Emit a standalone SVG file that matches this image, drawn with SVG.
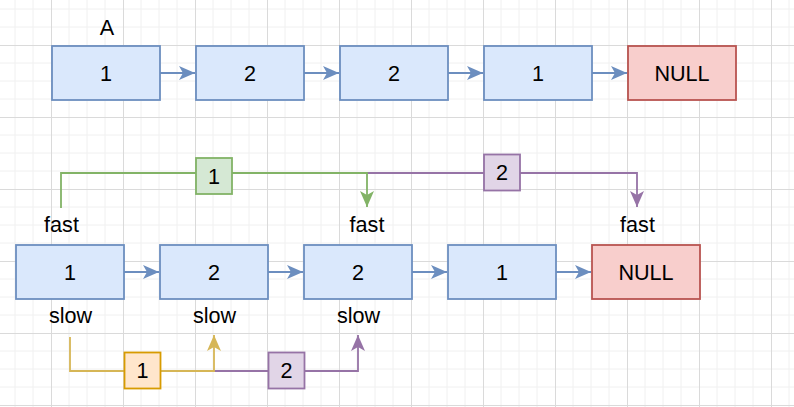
<svg xmlns="http://www.w3.org/2000/svg" width="794" height="407" viewBox="0 0 794 407">
<style>
text{font-family:"Liberation Sans",Arial,sans-serif;font-size:21.6px;fill:#000;text-anchor:middle}
.blue{fill:#dae8fc;stroke:#6c8ebf;stroke-width:1.8}
.red{fill:#f8cecc;stroke:#b85450;stroke-width:1.8}
.green{fill:#d5e8d4;stroke:#82b366;stroke-width:1.8}
.orange{fill:#ffe6cc;stroke:#d79b00;stroke-width:1.8}
.purple{fill:#e1d5e7;stroke:#9673a6;stroke-width:1.8}
.ln{fill:none;stroke-width:1.8}
</style>
<defs>
<pattern id="grid" patternUnits="userSpaceOnUse" x="51" y="45" width="72" height="72">
<path d="M18,0V72M36,0V72M54,0V72M0,18H72M0,36H72M0,54H72" stroke="#f0f0f0" stroke-width="1" fill="none"/>
<path d="M0.5,0V72M0,0.5H72" stroke="#dadada" stroke-width="1" fill="none"/>
</pattern>
<marker id="mb" markerUnits="userSpaceOnUse" markerWidth="16" markerHeight="14" viewBox="0 0 16 14" refX="16" refY="7" orient="auto"><path d="M0,0L16,7L0,14L4,7Z" fill="#6c8ebf"/></marker>
<marker id="mg" markerUnits="userSpaceOnUse" markerWidth="16" markerHeight="14" viewBox="0 0 16 14" refX="16" refY="7" orient="auto"><path d="M0,0L16,7L0,14L4,7Z" fill="#82b366"/></marker>
<marker id="mp" markerUnits="userSpaceOnUse" markerWidth="16" markerHeight="14" viewBox="0 0 16 14" refX="16" refY="7" orient="auto"><path d="M0,0L16,7L0,14L4,7Z" fill="#9673a6"/></marker>
<marker id="my" markerUnits="userSpaceOnUse" markerWidth="16" markerHeight="14" viewBox="0 0 16 14" refX="16" refY="7" orient="auto"><path d="M0,0L16,7L0,14L4,7Z" fill="#d6b656"/></marker>
</defs>
<rect width="794" height="407" fill="#fff"/>
<rect width="794" height="407" fill="url(#grid)"/>

<g id="connectors">
<line x1="160" y1="73" x2="195" y2="73" class="ln" stroke="#6c8ebf" marker-end="url(#mb)"/>
<line x1="304" y1="73" x2="339" y2="73" class="ln" stroke="#6c8ebf" marker-end="url(#mb)"/>
<line x1="448" y1="73" x2="483" y2="73" class="ln" stroke="#6c8ebf" marker-end="url(#mb)"/>
<line x1="592" y1="73" x2="627" y2="73" class="ln" stroke="#6c8ebf" marker-end="url(#mb)"/>
<line x1="124" y1="272" x2="159" y2="272" class="ln" stroke="#6c8ebf" marker-end="url(#mb)"/>
<line x1="268" y1="272" x2="303" y2="272" class="ln" stroke="#6c8ebf" marker-end="url(#mb)"/>
<line x1="412" y1="272" x2="447" y2="272" class="ln" stroke="#6c8ebf" marker-end="url(#mb)"/>
<line x1="556" y1="272" x2="591" y2="272" class="ln" stroke="#6c8ebf" marker-end="url(#mb)"/>
<path d="M367,173H637V207" class="ln" stroke="#9673a6" marker-end="url(#mp)"/>
<path d="M61,208V173H367V207" class="ln" stroke="#82b366" marker-end="url(#mg)"/>
<path d="M214,371H358V335" class="ln" stroke="#9673a6" marker-end="url(#mp)"/>
<path d="M70,337V371H214V335" class="ln" stroke="#d6b656" marker-end="url(#my)"/>
</g>

<g id="label-A"><text x="107" y="35">A</text></g>
<g id="top1"><rect x="52" y="46" width="108" height="54" class="blue"/><text x="106" y="81">1</text></g>
<g id="top2"><rect x="196" y="46" width="108" height="54" class="blue"/><text x="250" y="81">2</text></g>
<g id="top3"><rect x="340" y="46" width="108" height="54" class="blue"/><text x="394" y="81">2</text></g>
<g id="top4"><rect x="484" y="46" width="108" height="54" class="blue"/><text x="538" y="81">1</text></g>
<g id="topNull"><rect x="628" y="46" width="108" height="54" class="red"/><text x="682" y="81">NULL</text></g>

<g id="bot1"><rect x="16" y="245" width="108" height="54" class="blue"/><text x="70" y="280">1</text></g>
<g id="bot2"><rect x="160" y="245" width="108" height="54" class="blue"/><text x="214" y="280">2</text></g>
<g id="bot3"><rect x="304" y="245" width="108" height="54" class="blue"/><text x="358" y="280">2</text></g>
<g id="bot4"><rect x="448" y="245" width="108" height="54" class="blue"/><text x="502" y="280">1</text></g>
<g id="botNull"><rect x="592" y="245" width="108" height="54" class="red"/><text x="646" y="280">NULL</text></g>

<g id="fast1"><text x="61.5" y="232">fast</text></g>
<g id="fast2"><text x="367" y="232">fast</text></g>
<g id="fast3"><text x="637.5" y="232">fast</text></g>
<g id="slow1"><text x="70.5" y="323">slow</text></g>
<g id="slow2"><text x="214.5" y="323">slow</text></g>
<g id="slow3"><text x="358.5" y="323">slow</text></g>

<g id="step-fast-1"><rect x="196" y="158" width="36" height="36" class="green"/><text x="214" y="183.5">1</text></g>
<g id="step-fast-2"><rect x="484" y="154.5" width="36" height="36" class="purple"/><text x="502" y="180">2</text></g>
<g id="step-slow-1"><rect x="124.5" y="352.5" width="36" height="36" class="orange"/><text x="142.5" y="378">1</text></g>
<g id="step-slow-2"><rect x="268.5" y="352.5" width="36" height="36" class="purple"/><text x="286.5" y="378">2</text></g>
</svg>
